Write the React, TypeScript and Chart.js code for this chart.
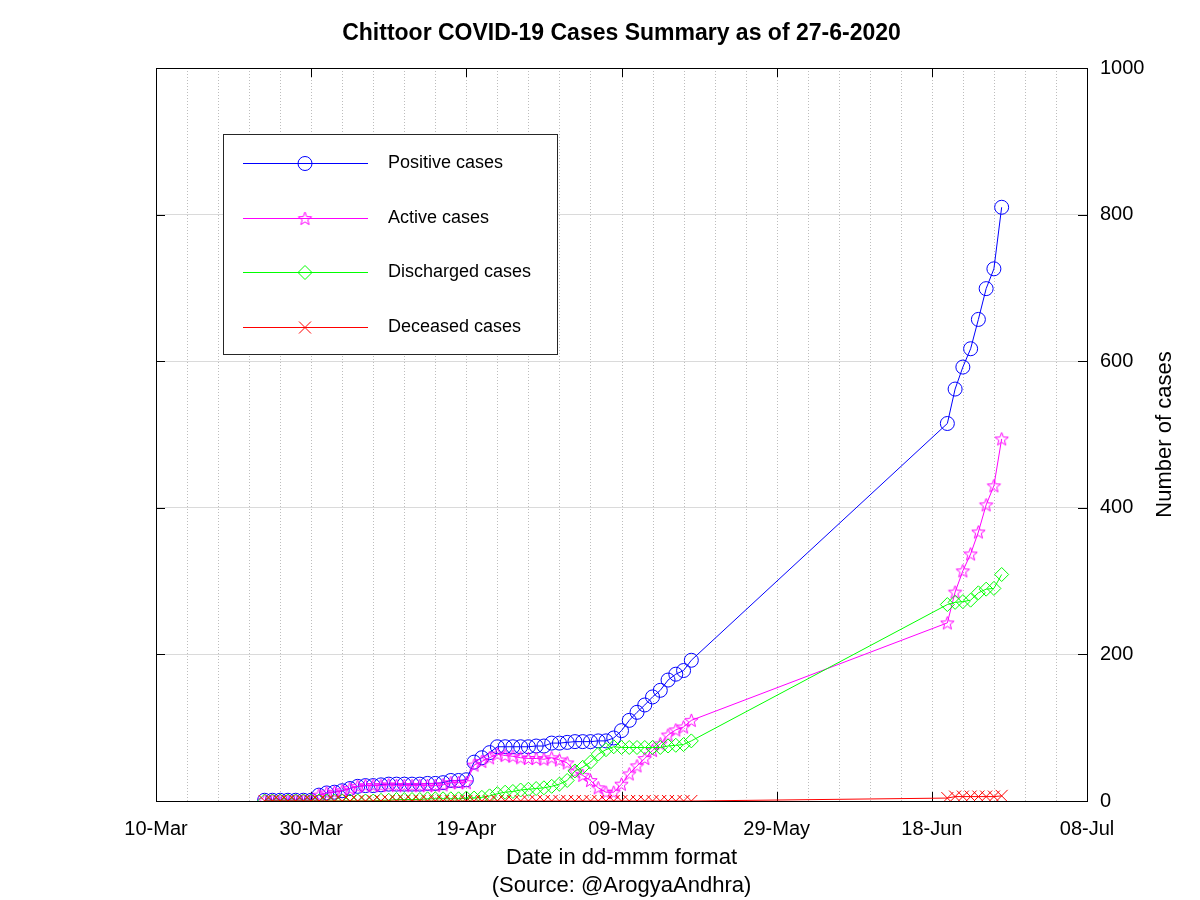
import React, { useEffect, useRef } from 'react';
import { Chart, registerables } from 'chart.js';

Chart.register(...registerables);

// ---- Data ----
const dates = [
  '24-Mar', '25-Mar', '26-Mar', '27-Mar', '28-Mar', '29-Mar', '30-Mar', '31-Mar',
  '01-Apr', '02-Apr', '03-Apr', '04-Apr', '05-Apr', '06-Apr', '07-Apr', '08-Apr', '09-Apr', '10-Apr',
  '11-Apr', '12-Apr', '13-Apr', '14-Apr', '15-Apr', '16-Apr', '17-Apr', '18-Apr', '19-Apr', '20-Apr',
  '21-Apr', '22-Apr', '23-Apr', '24-Apr', '25-Apr', '26-Apr', '27-Apr', '28-Apr', '29-Apr', '30-Apr',
  '01-May', '02-May', '03-May', '04-May', '05-May', '06-May', '07-May', '08-May', '09-May', '10-May',
  '11-May', '12-May', '13-May', '14-May', '15-May', '16-May', '17-May', '18-May',
  '20-Jun', '21-Jun', '22-Jun', '23-Jun', '24-Jun', '25-Jun', '26-Jun', '27-Jun',
];

const positive = [
  1, 1, 1, 1, 1, 1, 1, 8,
  11, 12, 14, 17, 20, 21, 21, 22, 23, 23,
  23, 23, 23, 24, 24, 25, 28, 28, 29, 53,
  59, 66, 74, 74, 74, 74, 74, 75, 75, 79,
  79, 80, 81, 81, 81, 82, 82, 86, 96, 110,
  121, 131, 142, 151, 165, 173, 178, 192,
  515, 562, 592, 617, 657, 699, 726, 810,
];

const active = [
  1, 1, 1, 1, 1, 1, 1, 8,
  11, 12, 14, 17, 20, 21, 21, 21, 22, 21,
  21, 21, 21, 21, 21, 22, 25, 25, 25, 49,
  54, 59, 64, 62, 61, 59, 58, 58, 57, 59,
  56, 52, 40, 35, 28, 18, 12, 12, 23, 37,
  48, 58, 69, 78, 90, 97, 101, 110,
  243, 285, 314, 337, 367, 404, 430, 494,
];

const discharged = [
  0, 0, 0, 0, 0, 0, 0, 0,
  0, 0, 0, 0, 0, 0, 0, 1, 1, 2,
  2, 2, 2, 3, 3, 3, 3, 3, 4, 4,
  5, 7, 10, 12, 13, 15, 16, 17, 18, 20,
  23, 28, 41, 46, 53, 64, 70, 74, 73, 73,
  73, 73, 73, 73, 75, 76, 77, 82,
  268, 271, 272, 274, 284, 289, 290, 309,
];

const deceased = [
  0, 0, 0, 0, 0, 0, 0, 0,
  0, 0, 0, 0, 0, 0, 0, 0, 0, 0,
  0, 0, 0, 0, 0, 0, 0, 0, 0, 0,
  0, 0, 0, 0, 0, 0, 0, 0, 0, 0,
  0, 0, 0, 0, 0, 0, 0, 0, 0, 0,
  0, 0, 0, 0, 0, 0, 0, 0,
  4, 6, 6, 6, 6, 6, 6, 7,
];

const xTickLabels = ['10-Mar', '30-Mar', '19-Apr', '09-May', '29-May', '18-Jun', '08-Jul'];
const yTickValues = [0, 200, 400, 600, 800, 1000];
const seriesNames = ['Positive cases', 'Active cases', 'Discharged cases', 'Deceased cases'];
const seriesColors = ['#0000ff', '#ff00ff', '#00ff00', '#ff0000'];

const TITLE = 'Chittoor COVID-19 Cases Summary as of 27-6-2020';
const X_TITLE = ['Date in dd-mmm format', '(Source: @ArogyaAndhra)'];
const Y_TITLE = 'Number of cases';

const FONT = "'Liberation Sans', Arial, Helvetica, sans-serif";

const MONTHS: Record<string, number> = { Mar: 2, Apr: 3, May: 4, Jun: 5, Jul: 6 };
function dayIndex(s: string): number {
  const [d, m] = s.split('-');
  const t = Date.UTC(2020, MONTHS[m], parseInt(d, 10));
  return Math.round((t - Date.UTC(2020, 2, 10)) / 86400000);
}

function makeStar(color: string, r: number): HTMLCanvasElement {
  const size = Math.ceil(r * 2 + 3);
  const c = document.createElement('canvas');
  c.width = size;
  c.height = size;
  const ctx = c.getContext('2d')!;
  ctx.strokeStyle = color;
  ctx.lineWidth = 1;
  ctx.beginPath();
  for (let i = 0; i < 10; i++) {
    const ang = -Math.PI / 2 + (i * Math.PI) / 5;
    const rad = i % 2 === 0 ? r : r * 0.42;
    const x = size / 2 + rad * Math.cos(ang);
    const y = size / 2 + rad * Math.sin(ang) + 0.5;
    if (i === 0) ctx.moveTo(x, y);
    else ctx.lineTo(x, y);
  }
  ctx.closePath();
  ctx.stroke();
  return c;
}

function drawMarker(ctx: CanvasRenderingContext2D, kind: number, x: number, y: number, star: HTMLCanvasElement) {
  ctx.save();
  ctx.strokeStyle = seriesColors[kind];
  ctx.lineWidth = 1;
  ctx.beginPath();
  if (kind === 0) {
    ctx.arc(x, y, 7, 0, Math.PI * 2);
    ctx.stroke();
  } else if (kind === 1) {
    ctx.drawImage(star, x - star.width / 2, y - star.height / 2);
  } else if (kind === 2) {
    ctx.moveTo(x, y - 7);
    ctx.lineTo(x + 7, y);
    ctx.lineTo(x, y + 7);
    ctx.lineTo(x - 7, y);
    ctx.closePath();
    ctx.stroke();
  } else {
    const d = 6;
    ctx.moveTo(x - d, y - d);
    ctx.lineTo(x + d, y + d);
    ctx.moveTo(x + d, y - d);
    ctx.lineTo(x - d, y + d);
    ctx.stroke();
  }
  ctx.restore();
}

export default function App() {
  const ref = useRef<HTMLCanvasElement | null>(null);

  useEffect(() => {
    if (!ref.current) return;
    const star = makeStar('#ff00ff', 7);
    const xs = dates.map(dayIndex);
    const mk = (vals: number[]) => vals.map((v, i) => ({ x: xs[i], y: v }));

    const decor = {
      id: 'decor',
      beforeDatasetsDraw(chart: any) {
        const { ctx, chartArea: a } = chart;
        const xScale = chart.scales.x;
        const yScale = chart.scales.y;
        ctx.save();
        // dotted vertical grid every 4 days
        ctx.strokeStyle = '#bdbdbd';
        ctx.lineWidth = 1;
        ctx.setLineDash([1, 2]);
        for (let d = 4; d < 120; d += 4) {
          const px = Math.round(xScale.getPixelForValue(d)) + 0.5;
          ctx.beginPath();
          ctx.moveTo(px, a.top);
          ctx.lineTo(px, a.bottom);
          ctx.stroke();
        }
        ctx.setLineDash([]);
        // frame
        ctx.strokeStyle = '#000';
        ctx.strokeRect(Math.round(a.left) + 0.5, Math.round(a.top) + 0.5, Math.round(a.right - a.left), Math.round(a.bottom - a.top));
        // inward tick marks
        const tl = 9;
        ctx.beginPath();
        for (let d = 0; d <= 120; d += 20) {
          const px = Math.round(xScale.getPixelForValue(d)) + 0.5;
          ctx.moveTo(px, a.bottom);
          ctx.lineTo(px, a.bottom - tl);
          ctx.moveTo(px, a.top);
          ctx.lineTo(px, a.top + tl);
        }
        for (const v of yTickValues) {
          const py = Math.round(yScale.getPixelForValue(v)) + 0.5;
          ctx.moveTo(a.left, py);
          ctx.lineTo(a.left + tl, py);
          ctx.moveTo(a.right, py);
          ctx.lineTo(a.right - tl, py);
        }
        ctx.stroke();
        ctx.restore();
      },
      afterDraw(chart: any) {
        const { ctx, chartArea: a } = chart;
        ctx.save();
        // title
        ctx.fillStyle = '#000';
        ctx.font = `bold 23px ${FONT}`;
        ctx.textAlign = 'center';
        ctx.textBaseline = 'middle';
        ctx.fillText(TITLE, (a.left + a.right) / 2, 34);
        // y title (right side, reading bottom-to-top)
        ctx.save();
        ctx.translate(1165, (a.top + a.bottom) / 2);
        ctx.rotate(-Math.PI / 2);
        ctx.font = `22px ${FONT}`;
        ctx.fillText(Y_TITLE, 0, 0);
        ctx.restore();
        // legend
        const lx = a.left + 67;
        const ly = a.top + 66;
        const lw = 334;
        const lh = 220;
        ctx.fillStyle = '#ffffff';
        ctx.fillRect(lx, ly, lw, lh);
        ctx.strokeStyle = '#262626';
        ctx.lineWidth = 1;
        ctx.strokeRect(lx + 0.5, ly + 0.5, lw, lh);
        const rows = [29, 84, 138, 193];
        ctx.font = `18px ${FONT}`;
        ctx.textAlign = 'left';
        ctx.textBaseline = 'middle';
        for (let i = 0; i < 4; i++) {
          const ry = ly + rows[i] + 0.5;
          ctx.strokeStyle = seriesColors[i];
          ctx.lineWidth = 1;
          ctx.beginPath();
          ctx.moveTo(lx + 20, ry);
          ctx.lineTo(lx + 145, ry);
          ctx.stroke();
          drawMarker(ctx, i, lx + 82, ry, star);
          ctx.fillStyle = '#000';
          ctx.fillText(seriesNames[i], lx + 165, ry);
        }
        ctx.restore();
      },
    };

    const chart = new Chart(ref.current, {
      type: 'line',
      data: {
        datasets: [
          {
            label: seriesNames[0],
            data: mk(positive),
            borderColor: seriesColors[0],
            backgroundColor: 'rgba(0,0,0,0)',
            pointStyle: 'circle',
            pointRadius: 7,
            pointBorderColor: seriesColors[0],
            pointBackgroundColor: 'rgba(0,0,0,0)',
            borderWidth: 1,
            pointBorderWidth: 1,
            order: 4,
          },
          {
            label: seriesNames[1],
            data: mk(active),
            borderColor: seriesColors[1],
            backgroundColor: 'rgba(0,0,0,0)',
            pointStyle: star as any,
            pointRadius: 7,
            pointBorderColor: seriesColors[1],
            pointBackgroundColor: 'rgba(0,0,0,0)',
            borderWidth: 1,
            pointBorderWidth: 1,
            order: 3,
          },
          {
            label: seriesNames[2],
            data: mk(discharged),
            borderColor: seriesColors[2],
            backgroundColor: 'rgba(0,0,0,0)',
            pointStyle: 'rectRot',
            pointRadius: 7,
            pointBorderColor: seriesColors[2],
            pointBackgroundColor: 'rgba(0,0,0,0)',
            borderWidth: 1,
            pointBorderWidth: 1,
            order: 2,
          },
          {
            label: seriesNames[3],
            data: mk(deceased),
            borderColor: seriesColors[3],
            backgroundColor: 'rgba(0,0,0,0)',
            pointStyle: 'crossRot',
            pointRadius: 8.5,
            pointBorderColor: seriesColors[3],
            pointBackgroundColor: 'rgba(0,0,0,0)',
            borderWidth: 1,
            pointBorderWidth: 1,
            order: 1,
          },
        ],
      },
      options: {
        responsive: false,
        animation: false,
        devicePixelRatio: 1,
        layout: { padding: { left: 156, top: 68, right: 0, bottom: 0 } },
        plugins: {
          legend: { display: false },
          title: { display: false },
          tooltip: { enabled: false },
        },
        elements: { line: { tension: 0 } },
        scales: {
          x: {
            type: 'linear',
            min: 0,
            max: 120,
            afterBuildTicks: (scale: any) => {
              scale.ticks = [0, 20, 40, 60, 80, 100, 120].map((v) => ({ value: v }));
            },
            afterFit: (scale: any) => {
              scale.height = 99;
            },
            ticks: {
              autoSkip: false,
              maxRotation: 0,
              minRotation: 0,
              padding: 16,
              color: '#000',
              font: { family: FONT, size: 20 },
              callback: (v: any) => xTickLabels[Math.round(Number(v) / 20)] ?? '',
            },
            grid: { display: false, drawTicks: false },
            border: { display: false },
            title: {
              display: true,
              text: X_TITLE,
              color: '#000',
              font: { family: FONT, size: 22, lineHeight: 28 / 22 },
              padding: 0,
            },
          },
          y: {
            type: 'linear',
            position: 'right',
            min: 0,
            max: 1000,
            afterBuildTicks: (scale: any) => {
              scale.ticks = yTickValues.map((v) => ({ value: v }));
            },
            afterFit: (scale: any) => {
              scale.width = 113;
            },
            ticks: {
              padding: 13,
              color: '#000',
              font: { family: FONT, size: 20 },
              callback: (v: any) => String(v),
            },
            grid: { color: '#dadada', lineWidth: 1, drawTicks: false },
            border: { display: false },
          },
        },
      },
      plugins: [decor],
    });

    return () => chart.destroy();
  }, []);

  return (
    <div style={{ position: 'absolute', left: 0, top: 0, width: 1200, height: 900, background: '#fff' }}>
      <canvas ref={ref} width={1200} height={900} style={{ display: 'block' }} />
    </div>
  );
}
